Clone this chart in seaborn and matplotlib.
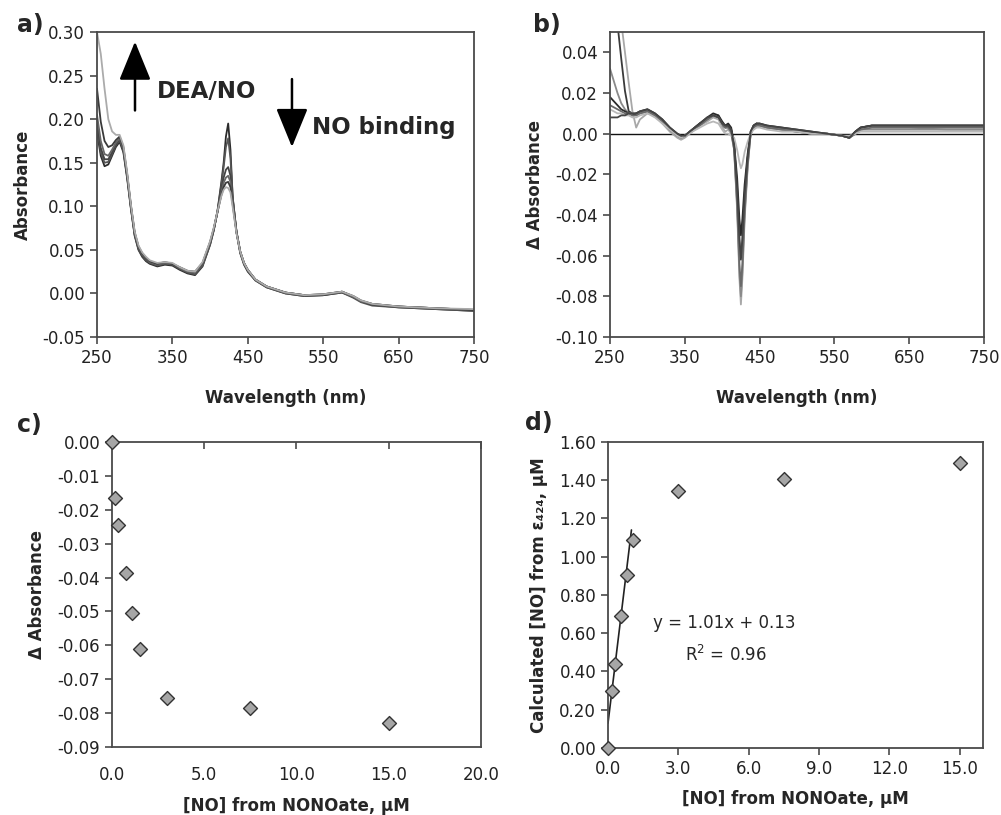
import numpy as np
import pandas as pd
import matplotlib
matplotlib.use("Agg")
import matplotlib.pyplot as plt
from matplotlib.ticker import FormatStrFormatter, MultipleLocator
import seaborn as sns

# ---------------- data ----------------
wl_a = [250, 255, 260, 265, 270, 275, 280, 285, 290, 295,
        300, 305, 310, 315, 320, 330, 340, 350, 360, 370,
        380, 390, 400, 405, 410, 415, 418, 421, 424, 427,
        430, 435, 440, 445, 450, 460, 475, 500, 525, 550,
        575, 590, 600, 615, 650, 700, 750]

abs_0 = [0.185, 0.158, 0.146, 0.148, 0.158, 0.168, 0.174, 0.162, 0.132, 0.097,
         0.066, 0.050, 0.042, 0.037, 0.034, 0.031, 0.033, 0.032, 0.027, 0.023,
         0.021, 0.031, 0.056, 0.073, 0.096, 0.128, 0.150, 0.180, 0.195, 0.165,
         0.110, 0.070, 0.046, 0.033, 0.025, 0.015, 0.007, 0.000, -0.003, -0.002,
         0.001, -0.004, -0.009, -0.013, -0.016, -0.018, -0.020]
abs_1 = [0.190, 0.162, 0.150, 0.151, 0.160, 0.170, 0.176, 0.164, 0.134, 0.098,
         0.067, 0.051, 0.043, 0.038, 0.035, 0.032, 0.034, 0.033, 0.028, 0.024,
         0.022, 0.032, 0.056, 0.073, 0.095, 0.125, 0.145, 0.168, 0.178, 0.155,
         0.110, 0.071, 0.047, 0.034, 0.026, 0.015, 0.007, 0.000, -0.003, -0.002,
         0.001, -0.005, -0.010, -0.014, -0.016, -0.018, -0.020]
abs_2 = [0.195, 0.167, 0.154, 0.154, 0.162, 0.171, 0.177, 0.165, 0.135, 0.099,
         0.068, 0.052, 0.044, 0.039, 0.036, 0.033, 0.035, 0.034, 0.029, 0.025,
         0.024, 0.034, 0.058, 0.074, 0.095, 0.120, 0.133, 0.142, 0.145, 0.135,
         0.108, 0.071, 0.048, 0.035, 0.027, 0.016, 0.008, 0.001, -0.002, -0.002,
         0.002, -0.004, -0.009, -0.013, -0.015, -0.017, -0.019]
abs_3 = [0.205, 0.175, 0.160, 0.158, 0.165, 0.173, 0.178, 0.166, 0.136, 0.100,
         0.069, 0.053, 0.045, 0.040, 0.036, 0.033, 0.035, 0.034, 0.029, 0.025,
         0.024, 0.034, 0.058, 0.074, 0.094, 0.116, 0.127, 0.133, 0.135, 0.128,
         0.105, 0.071, 0.048, 0.035, 0.027, 0.016, 0.008, 0.001, -0.002, -0.001,
         0.002, -0.004, -0.009, -0.012, -0.015, -0.017, -0.019]
abs_4 = [0.235, 0.197, 0.175, 0.168, 0.170, 0.176, 0.180, 0.168, 0.137, 0.101,
         0.070, 0.054, 0.046, 0.041, 0.037, 0.034, 0.036, 0.034, 0.030, 0.026,
         0.025, 0.035, 0.059, 0.075, 0.094, 0.113, 0.122, 0.127, 0.128, 0.122,
         0.102, 0.070, 0.048, 0.035, 0.027, 0.016, 0.008, 0.001, -0.002, -0.001,
         0.002, -0.003, -0.008, -0.012, -0.015, -0.017, -0.019]
abs_5 = [0.300, 0.275, 0.235, 0.200, 0.186, 0.182, 0.182, 0.170, 0.139, 0.102,
         0.071, 0.055, 0.047, 0.042, 0.038, 0.035, 0.036, 0.035, 0.030, 0.026,
         0.025, 0.036, 0.060, 0.076, 0.095, 0.112, 0.119, 0.122, 0.121, 0.116,
         0.099, 0.069, 0.048, 0.035, 0.027, 0.016, 0.008, 0.001, -0.002, -0.001,
         0.002, -0.003, -0.008, -0.012, -0.015, -0.017, -0.018]

spectra_a = {"s0": abs_0, "s1": abs_1, "s2": abs_2, "s3": abs_3, "s4": abs_4, "s5": abs_5}
colors_a = {"s0": "#2b2b2b", "s1": "#555555", "s2": "#444444",
            "s3": "#666666", "s4": "#3a3a3a", "s5": "#ababab"}

wl_b = [250, 255, 260, 265, 270, 275, 280, 285, 290, 300,
        310, 320, 330, 340, 345, 350, 360, 370, 380, 388,
        395, 400, 404, 408, 412, 416, 420, 423, 425, 427,
        430, 434, 438, 442, 446, 450, 460, 480, 500, 520,
        540, 560, 570, 578, 585, 600, 650, 700, 750]

diff_A = [0.085, 0.070, 0.054, 0.037, 0.021, 0.011, 0.010, 0.009, 0.010, 0.011,
          0.009, 0.006, 0.002, -0.001, -0.002, -0.001, 0.002, 0.005, 0.007, 0.009,
          0.008, 0.004, 0.003, 0.004, 0.002, -0.006, -0.028, -0.053, -0.062, -0.053,
          -0.031, -0.012, 0.000, 0.004, 0.005, 0.004, 0.003, 0.002, 0.001, 0.0005,
          0.000, -0.001, -0.002, 0.001, 0.003, 0.004, 0.004, 0.004, 0.004]
diff_B = [0.100, 0.085, 0.070, 0.055, 0.040, 0.025, 0.011, 0.003, 0.007, 0.010,
          0.009, 0.005, 0.001, -0.002, -0.003, -0.002, 0.001, 0.004, 0.006, 0.008,
          0.007, 0.003, 0.001, 0.002, 0.000, -0.008, -0.038, -0.071, -0.084, -0.071,
          -0.042, -0.017, 0.000, 0.003, 0.004, 0.004, 0.003, 0.002, 0.001, 0.000,
          0.000, -0.001, -0.002, 0.000, 0.002, 0.003, 0.003, 0.002, 0.002]
diff_C = [0.032, 0.026, 0.020, 0.015, 0.012, 0.010, 0.010, 0.010, 0.010, 0.011,
          0.009, 0.006, 0.002, -0.001, -0.002, -0.001, 0.002, 0.005, 0.007, 0.009,
          0.009, 0.005, 0.003, 0.003, 0.001, -0.008, -0.036, -0.068, -0.080, -0.068,
          -0.040, -0.016, 0.000, 0.003, 0.004, 0.004, 0.003, 0.002, 0.001, 0.000,
          0.000, -0.001, -0.002, 0.000, 0.002, 0.002, 0.002, 0.002, 0.002]
diff_D = [0.018, 0.016, 0.014, 0.012, 0.011, 0.010, 0.009, 0.010, 0.011, 0.012,
          0.010, 0.007, 0.003, 0.000, -0.001, -0.001, 0.002, 0.005, 0.008, 0.010,
          0.009, 0.006, 0.004, 0.005, 0.003, -0.005, -0.022, -0.042, -0.050, -0.042,
          -0.025, -0.010, 0.001, 0.004, 0.005, 0.005, 0.004, 0.003, 0.002, 0.001,
          0.000, -0.001, -0.002, 0.001, 0.003, 0.004, 0.004, 0.004, 0.004]
diff_E = [0.014, 0.013, 0.012, 0.011, 0.010, 0.010, 0.009, 0.009, 0.010, 0.011,
          0.009, 0.006, 0.002, -0.001, -0.002, -0.001, 0.002, 0.004, 0.007, 0.009,
          0.008, 0.005, 0.003, 0.003, 0.001, -0.0075, -0.034, -0.064, -0.075, -0.064,
          -0.038, -0.015, 0.000, 0.003, 0.004, 0.004, 0.003, 0.002, 0.001, 0.000,
          0.000, -0.001, -0.002, 0.000, 0.002, 0.003, 0.003, 0.003, 0.003]
diff_F = [0.012, 0.011, 0.010, 0.010, 0.009, 0.009, 0.008, 0.008, 0.009, 0.010,
          0.008, 0.005, 0.002, -0.001, -0.002, -0.001, 0.001, 0.003, 0.005, 0.006,
          0.005, 0.002, 0.000, 0.000, -0.001, -0.002, -0.008, -0.014, -0.017, -0.015,
          -0.009, -0.004, 0.000, 0.002, 0.003, 0.003, 0.002, 0.001, 0.001, 0.000,
          0.000, -0.001, -0.001, 0.000, 0.001, 0.001, 0.001, 0.001, 0.001]
diff_G = [0.008, 0.008, 0.008, 0.009, 0.009, 0.010, 0.010, 0.010, 0.011, 0.012,
          0.010, 0.007, 0.003, 0.000, -0.001, -0.001, 0.002, 0.005, 0.008, 0.009,
          0.008, 0.005, 0.004, 0.004, 0.002, -0.006, -0.027, -0.052, -0.061, -0.052,
          -0.030, -0.012, 0.001, 0.004, 0.005, 0.005, 0.004, 0.003, 0.002, 0.001,
          0.000, -0.001, -0.002, 0.001, 0.003, 0.004, 0.004, 0.004, 0.004]

spectra_b = {"A": diff_A, "B": diff_B, "C": diff_C, "D": diff_D,
             "E": diff_E, "F": diff_F, "G": diff_G}
colors_b = {"A": "#3a3a3a", "B": "#a8a8a8", "C": "#8a8a8a", "D": "#2a2a2a",
            "E": "#6a6a6a", "F": "#b8b8b8", "G": "#444444"}

wl_ticks = [250, 350, 450, 550, 650, 750]

no_c = [0.0, 0.15, 0.35, 0.75, 1.1, 1.5, 3.0, 7.5, 15.0]
dA_c = [0.0, -0.0165, -0.0245, -0.0385, -0.0505, -0.061, -0.0755, -0.0785, -0.083]

no_d = [0.0, 0.15, 0.3, 0.55, 0.8, 1.05, 3.0, 7.5, 15.0]
calc_d = [0.0, 0.30, 0.44, 0.69, 0.905, 1.09, 1.345, 1.405, 1.49]

fit_slope = 1.01
fit_intercept = 0.13
fit_x = [0.0, 1.0]

# ---------------- style ----------------
sns.set_theme(style="ticks")
plt.rcParams["font.family"] = ["DejaVu Sans"]
plt.rcParams["axes.unicode_minus"] = False

SP = "#4a4a4a"
TICK_FS = 12
LAB_FS = 12

fig = plt.figure(figsize=(10.01, 8.15), dpi=100)
ax_a = fig.add_axes([0.0969, 0.5865, 0.3766, 0.3742])
ax_b = fig.add_axes([0.6094, 0.5865, 0.3736, 0.3742])
ax_c = fig.add_axes([0.1119, 0.0834, 0.3686, 0.3742])
ax_d = fig.add_axes([0.6074, 0.0822, 0.3746, 0.3755])

def frame(ax):
    for s in ax.spines.values():
        s.set_visible(True)
        s.set_color(SP)
        s.set_linewidth(1.3)
    ax.tick_params(colors=SP, labelcolor="#222222", labelsize=TICK_FS,
                   width=1.2, length=5, direction="out")

def long_df(wl, spectra):
    rows = []
    for k, v in spectra.items():
        for x, y in zip(wl, v):
            rows.append((x, y, k))
    return pd.DataFrame(rows, columns=["wl", "val", "trace"])

# ---- panel a ----
df_a = long_df(wl_a, spectra_a)
sns.lineplot(data=df_a, x="wl", y="val", hue="trace", palette=colors_a,
             estimator=None, sort=False, legend=False, lw=1.3, ax=ax_a)
ax_a.set_xlim(250, 750)
ax_a.set_ylim(-0.05, 0.30)
ax_a.set_xticks(wl_ticks)
ax_a.yaxis.set_major_locator(MultipleLocator(0.05))
ax_a.yaxis.set_major_formatter(FormatStrFormatter("%.2f"))
frame(ax_a)
ax_a.set_xlabel("Wavelength (nm)", fontsize=LAB_FS, fontweight="bold", labelpad=16)
ax_a.set_ylabel("Absorbance", fontsize=LAB_FS, fontweight="bold", labelpad=8)
ax_a.annotate("", xy=(300.4, 0.289), xytext=(300.4, 0.210),
              arrowprops=dict(arrowstyle="-|>,head_width=0.45,head_length=1.1",
                              lw=1.8, color="black", mutation_scale=22,
                              shrinkA=0, shrinkB=0))
ax_a.annotate("", xy=(508.6, 0.168), xytext=(508.6, 0.246),
              arrowprops=dict(arrowstyle="-|>,head_width=0.45,head_length=1.1",
                              lw=1.8, color="black", mutation_scale=22,
                              shrinkA=0, shrinkB=0))
ax_a.text(330, 0.232, "DEA/NO", fontsize=16.5, fontweight="bold", va="center", ha="left")
ax_a.text(535, 0.191, "NO binding", fontsize=16.5, fontweight="bold", va="center", ha="left")

# ---- panel b ----
df_b = long_df(wl_b, spectra_b)
ax_b.axhline(0, color="#111111", lw=1.0, zorder=1)
sns.lineplot(data=df_b, x="wl", y="val", hue="trace", palette=colors_b,
             estimator=None, sort=False, legend=False, lw=1.3, ax=ax_b)
ax_b.set_xlim(250, 750)
ax_b.set_ylim(-0.10, 0.05)
ax_b.set_xticks(wl_ticks)
ax_b.set_yticks(np.arange(-0.10, 0.041, 0.02))
ax_b.yaxis.set_major_formatter(FormatStrFormatter("%.2f"))
frame(ax_b)
ax_b.set_xlabel("Wavelength (nm)", fontsize=LAB_FS, fontweight="bold", labelpad=16)
ax_b.set_ylabel("Δ Absorbance", fontsize=LAB_FS, fontweight="bold", labelpad=8)

# ---- panel c ----
sns.scatterplot(x=no_c, y=dA_c, marker="D", s=50, color="#a6a6a6",
                edgecolor="#333333", linewidth=1.0, ax=ax_c, zorder=3, clip_on=False)
ax_c.set_xlim(0, 20)
ax_c.set_ylim(-0.09, 0.0)
ax_c.xaxis.set_major_locator(MultipleLocator(5))
ax_c.xaxis.set_major_formatter(FormatStrFormatter("%.1f"))
ax_c.yaxis.set_major_locator(MultipleLocator(0.01))
ax_c.yaxis.set_major_formatter(FormatStrFormatter("%.2f"))
frame(ax_c)
ax_c.tick_params(axis="x", top=True, bottom=False, labeltop=False,
                 labelbottom=True, direction="in", pad=14)
ax_c.set_xlabel("[NO] from NONOate, μM", fontsize=LAB_FS, fontweight="bold", labelpad=9)
ax_c.set_ylabel("Δ Absorbance", fontsize=LAB_FS, fontweight="bold", labelpad=8)

# ---- panel d ----
fit_y = [fit_slope * x + fit_intercept for x in fit_x]
sns.lineplot(x=fit_x, y=fit_y, color="#222222", lw=1.2, ax=ax_d, zorder=2)
sns.scatterplot(x=no_d, y=calc_d, marker="D", s=50, color="#a6a6a6",
                edgecolor="#333333", linewidth=1.0, ax=ax_d, zorder=3, clip_on=False)
ax_d.set_xlim(0, 16)
ax_d.set_ylim(0, 1.6)
ax_d.set_xticks([0, 3, 6, 9, 12, 15])
ax_d.xaxis.set_major_formatter(FormatStrFormatter("%.1f"))
ax_d.yaxis.set_major_locator(MultipleLocator(0.2))
ax_d.yaxis.set_major_formatter(FormatStrFormatter("%.2f"))
frame(ax_d)
ax_d.set_xlabel("[NO] from NONOate, μM", fontsize=LAB_FS, fontweight="bold", labelpad=9)
ax_d.set_ylabel("Calculated [NO] from ε₄₂₄, μM", fontsize=LAB_FS, fontweight="bold", labelpad=8)
ax_d.text(1.91, 0.655, "y = 1.01x + 0.13", fontsize=12, va="center", ha="left")
ax_d.text(3.27, 0.488, "R$^2$ = 0.96", fontsize=12, va="center", ha="left")

# ---- panel letters ----
for lbl, x, y in [("a)", 17, 25), ("b)", 533, 25), ("c)", 17, 425), ("d)", 525, 423)]:
    fig.text(x / 1001, 1 - y / 815, lbl, fontsize=17, fontweight="bold",
             ha="left", va="center")

fig.savefig("out.png", dpi=100, facecolor="white")
